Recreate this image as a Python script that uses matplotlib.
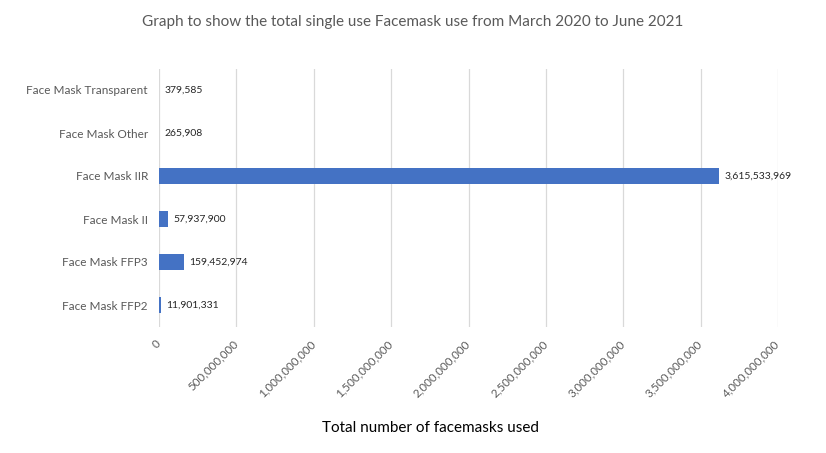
import matplotlib.pyplot as plt
from matplotlib.ticker import FuncFormatter

categories = ["Face Mask FFP2", "Face Mask FFP3", "Face Mask II",
              "Face Mask IIR", "Face Mask Other", "Face Mask Transparent"]
values = [11901331, 159452974, 57937900, 3615533969, 265908, 379585]
xticks = [0, 500000000, 1000000000, 1500000000, 2000000000,
          2500000000, 3000000000, 3500000000, 4000000000]

plt.rcParams['font.family'] = ['Lato', 'DejaVu Sans']

fig = plt.figure(figsize=(8.26, 4.53), dpi=100)
ax = fig.add_axes([159 / 826, 1 - 326.5 / 453, (778 - 159) / 826, (326.5 - 68.5) / 453])

ypos = range(len(categories))
bars = ax.barh(ypos, values, height=0.36, color="#4472c4", zorder=3)
ax.bar_label(bars, labels=[f"{v:,}" for v in values], padding=4,
             fontsize=7.5, color="#262626")

ax.set_ylim(-0.5, len(categories) - 0.5)
ax.set_xlim(0, 4000000000)
ax.set_yticks(list(ypos))
ax.set_yticklabels(categories, fontsize=8.5, color="#595959")
ax.set_xticks(xticks)
ax.xaxis.set_major_formatter(FuncFormatter(lambda v, p: f"{int(v):,}"))
for lab in ax.get_xticklabels():
    lab.set_rotation(45)
    lab.set_ha("right")
    lab.set_va("center")
    lab.set_rotation_mode("anchor")
    lab.set_fontsize(8.3)
    lab.set_color("#595959")

ax.tick_params(axis="both", length=0)
ax.tick_params(axis="x", pad=11)
ax.tick_params(axis="y", pad=8)
ax.grid(axis="x", color="#d9d9d9", lw=0.9, zorder=0)
for s in ax.spines.values():
    s.set_visible(False)

fig.text(413 / 826, 1 - 22 / 453, "Graph to show the total single use Facemask use from March 2020 to June 2021",
         ha="center", va="center", fontsize=11, color="#595959")
fig.text(430 / 826, 1 - 428 / 453, "Total number of facemasks used",
         ha="center", va="center", fontsize=11, color="#000000")

fig.savefig("out.png", dpi=100, facecolor="white")
